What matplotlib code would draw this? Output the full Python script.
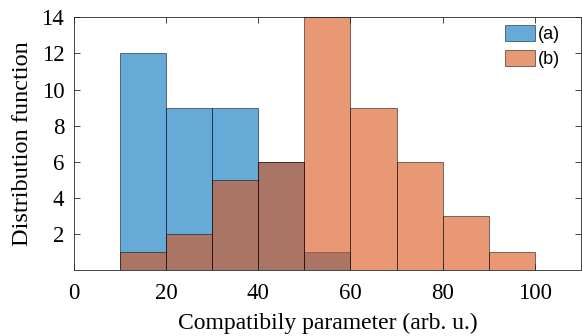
import matplotlib.pyplot as plt
import numpy as np

# bin edges and counts
edges_a = [10, 20, 30, 40, 50, 60]
counts_a = [12, 9, 9, 6, 1]
edges_b = [10, 20, 30, 40, 50, 60, 70, 80, 90, 100]
counts_b = [1, 2, 5, 6, 14, 9, 6, 3, 1]

blue = (0.0, 0.447, 0.741)
orange = (0.85, 0.325, 0.098)

plt.rcParams['font.family'] = 'Liberation Serif'

fig = plt.figure(figsize=(5.82, 3.36), dpi=100)
ax = fig.add_axes([0.127, 0.195, 0.871, 0.754])

ea = np.array(edges_a)
eb = np.array(edges_b)
ax.hist(ea[:-1], bins=ea, weights=counts_a, color=blue, alpha=0.6,
        edgecolor='black', linewidth=0.6, label='(a)')
ax.hist(eb[:-1], bins=eb, weights=counts_b, color=orange, alpha=0.6,
        edgecolor='black', linewidth=0.6, label='(b)')

ax.set_xlim(0, 110)
ax.set_ylim(0, 14)
ax.set_xticks([0, 20, 40, 60, 80, 100])
ax.set_yticks([2, 4, 6, 8, 10, 12, 14])
ax.tick_params(direction='in', top=True, right=True, labelsize=16.5,
               length=4, width=0.6, color='#262626')
ax.tick_params(axis='x', pad=9)
ax.tick_params(axis='y', pad=7)
for s in ax.spines.values():
    s.set_linewidth(0.6)
    s.set_color('#262626')

ax.set_xlabel('Compatibily parameter (arb. u.)', fontsize=17, labelpad=6)
ax.set_ylabel('Distribution function', fontsize=17.5, labelpad=6)

leg = ax.legend(loc='upper right', frameon=False,
                bbox_to_anchor=(0.962, 0.925), bbox_transform=fig.transFigure,
                prop={'family': 'Liberation Sans', 'size': 13},
                handlelength=1.65, handleheight=1.0, handletextpad=0.15,
                labelspacing=0.35, borderpad=0, borderaxespad=0)
for h in leg.legend_handles:
    h.set_linewidth(0.6)

fig.savefig('out.png', dpi=100)
